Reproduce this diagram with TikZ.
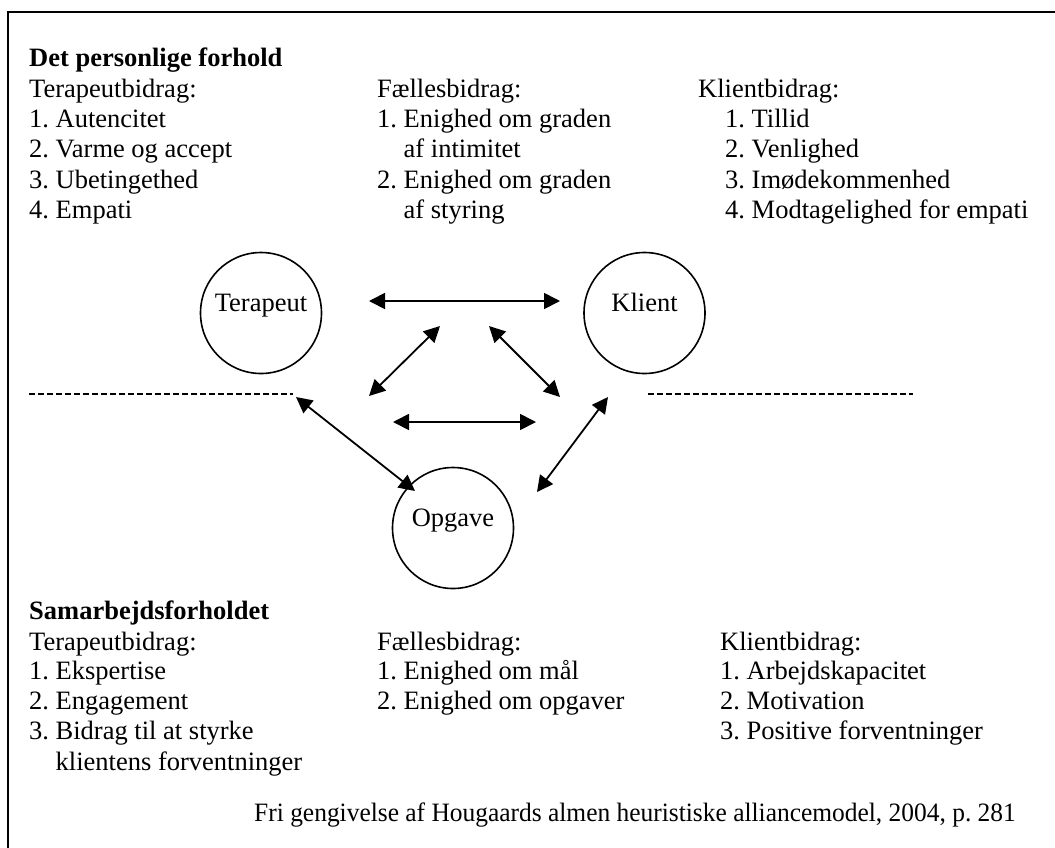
\documentclass[tikz,border=0pt]{standalone}
\usepackage{fontspec}
\setmainfont{Liberation Serif}
\usetikzlibrary{arrows.meta}
\begin{document}
\frenchspacing
\begin{tikzpicture}[x=1pt,y=-1pt,
  txt/.style={anchor=base west, inner sep=0pt, font=\fontsize{26.5}{30}\selectfont\frenchspacing},
  hd/.style={anchor=base west, inner sep=0pt, font=\fontsize{26.5}{30}\selectfont\bfseries},
  circ/.style={draw, circle, line width=1.6pt, minimum size=121pt, inner sep=0pt,
    font=\fontsize{26.5}{30}\selectfont, text height=18pt, text depth=20.6pt},
  dbl/.style={line width=1.8pt, {Triangle[length=16pt,width=16pt]}-{Triangle[length=16pt,width=16pt]}},
  sep/.style={line width=1.8pt, dash pattern=on 6pt off 3pt},
  frame/.style={line width=2pt}
]
\useasboundingbox (0,0) rectangle (1055,847);
\clip (0,0) rectangle (1055,847);
\fill[white] (0,0) rectangle (1055,847);
\draw[frame] (8,12) rectangle (1080,880);

% top block
\node[hd]  (t0) at (29,66) {Det personlige forhold};
\node[txt] (t1) at (29,97) {Terapeutbidrag:};
\node[txt] (t2) at (29,127) {1. Autencitet};
\node[txt] (t3) at (29,157) {2. Varme og accept};
\node[txt] (t4) at (29,188) {3. Ubetingethed};
\node[txt] (t5) at (29,218) {4. Empati};
\node[txt] (f1) at (377,97) {Fællesbidrag:};
\node[txt] (f2) at (377,127) {1. Enighed om graden};
\node[txt] (f3) at (403.5,157) {af intimitet};
\node[txt] (f4) at (377,188) {2. Enighed om graden};
\node[txt] (f5) at (403.5,218) {af styring};
\node[txt] (k1) at (698,97) {Klientbidrag:};
\node[txt] (k2) at (725,127) {1. Tillid};
\node[txt] (k3) at (725,157) {2. Venlighed};
\node[txt] (k4) at (725,188) {3. Imødekommenhed};
\node[txt] (k5) at (725,218) {4. Modtagelighed for empati};

% circles
\node[circ] (ter) at (261,313) {Terapeut};
\node[circ] (kli) at (644.5,313) {Klient};
\node[circ] (opg) at (453,528) {Opgave};

% arrow ends
\coordinate (a1s) at (369,301); \coordinate (a1e) at (560,301);
\coordinate (a2s) at (369,396); \coordinate (a2e) at (440,326);
\coordinate (a3s) at (489,326); \coordinate (a3e) at (560,397);
\coordinate (a4s) at (393,422); \coordinate (a4e) at (536,422);
\coordinate (a5s) at (296,397); \coordinate (a5e) at (415,491);
\coordinate (a6s) at (608,397); \coordinate (a6e) at (537,492);
\draw[dbl] (a1s) -- (a1e);
\draw[dbl] (a2s) -- (a2e);
\draw[dbl] (a3s) -- (a3e);
\draw[dbl] (a4s) -- (a4e);
\draw[dbl] (a5s) -- (a5e);
\draw[dbl] (a6s) -- (a6e);

% dashed separators
\coordinate (d1s) at (29,394); \coordinate (d1e) at (293,394);
\coordinate (d2s) at (648,394); \coordinate (d2e) at (913,394);
\draw[sep] (d1s) -- (d1e);
\draw[sep] (d2s) -- (d2e);

% bottom block
\node[hd]  (s0) at (29,619) {Samarbejdsforholdet};
\node[txt] (s1) at (29,650) {Terapeutbidrag:};
\node[txt] (s2) at (29,679) {1. Ekspertise};
\node[txt] (s3) at (29,709) {2. Engagement};
\node[txt] (s4) at (29,739) {3. Bidrag til at styrke};
\node[txt] (s5) at (55.5,770) {klientens forventninger};
\node[txt] (g1) at (377,650) {Fællesbidrag:};
\node[txt] (g2) at (377,679) {1. Enighed om mål};
\node[txt] (g3) at (377,709) {2. Enighed om opgaver};
\node[txt] (c1) at (720,650) {Klientbidrag:};
\node[txt] (c2) at (720,679) {1. Arbejdskapacitet};
\node[txt] (c3) at (720,709) {2. Motivation};
\node[txt] (c4) at (720,739) {3. Positive forventninger};

\node[anchor=base east, inner sep=0pt, xscale=0.96, font=\fontsize{26.5}{30}\selectfont\frenchspacing] (src) at (1016,821)
  {Fri gengivelse af Hougaards almen heuristiske alliancemodel, 2004, p. 281};
\end{tikzpicture}
\end{document}
